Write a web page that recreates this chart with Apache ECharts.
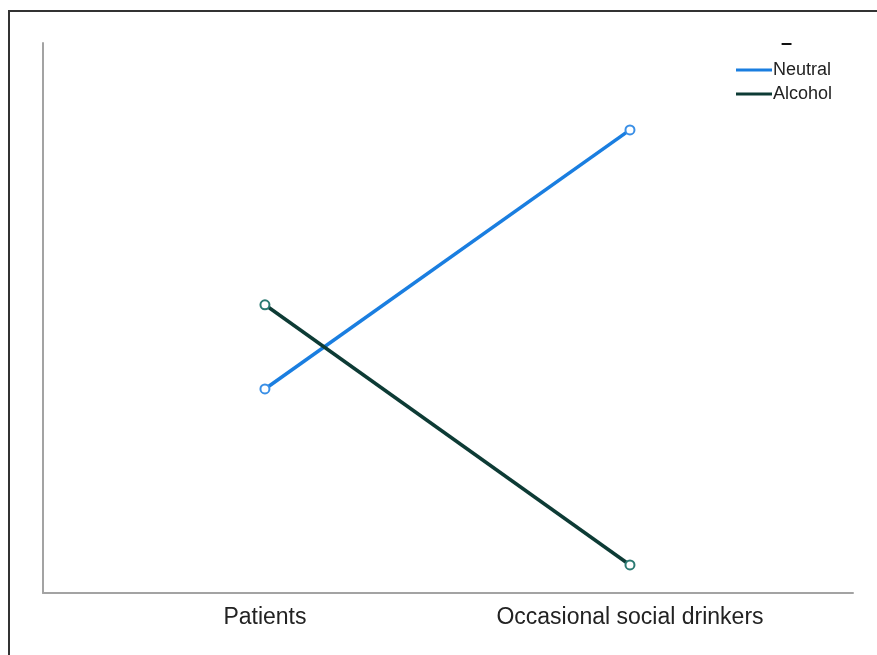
<!DOCTYPE html>
<html><head><meta charset="utf-8">
<script src="https://cdn.jsdelivr.net/npm/echarts@6/dist/echarts.min.js"></script>
<style>html,body{margin:0;padding:0;background:#fff}#c{width:877px;height:655px}</style>
</head><body><div id="c"></div>
<script>
const categories = ['Patients', 'Occasional social drinkers'];
const neutral = [37.1, 84.2];
const alcohol = [52.4, 5.1];
const seriesNames = ['Neutral', 'Alcohol'];

const chart = echarts.init(document.getElementById('c'), null, {renderer: 'canvas'});
const toPts = arr => arr.map((v, i) => [i, v]);
chart.setOption({
  animation: false,
  backgroundColor: '#fff',
  title: {text: '–', left: 776, top: 28, textStyle: {fontSize: 20, fontWeight: 'bold', color: '#111'}},
  grid: {left: 43, right: 24, top: 43, bottom: 62},
  legend: {
    left: 731, top: 56, orient: 'vertical', itemGap: 6, itemWidth: 36, itemHeight: 12,
    icon: 'path://M0,4.5 L36,4.5 L36,7.5 L0,7.5 Z',
    textStyle: {fontSize: 18, color: '#222', fontFamily: 'Liberation Sans, Arial', padding: [0,0,0,-4]},
    data: seriesNames.map((n, i) => ({name: n, itemStyle: {color: i ? '#0d3b35' : '#1a7ee0'}}))
  },
  xAxis: {
    type: 'value', min: -0.608, max: 1.611,
    splitLine: {show: false}, axisTick: {show: false},
    axisLine: {show: true, onZero: false, lineStyle: {color: '#a3a3a3', width: 2}},
    axisLabel: {
      customValues: [0, 1], margin: 13, fontSize: 23, color: '#222',
      fontFamily: 'Liberation Sans, Arial',
      formatter: v => categories[Math.round(v)] || ''
    }
  },
  yAxis: {
    type: 'value', min: 0, max: 100,
    splitLine: {show: false}, axisTick: {show: false}, axisLabel: {show: false},
    axisLine: {show: true, onZero: false, lineStyle: {color: '#a3a3a3', width: 2}}
  },
  series: [
    {name: seriesNames[0], type: 'line', data: toPts(neutral),
     lineStyle: {color: '#1a7ee0', width: 3.5}, symbol: 'emptyCircle', symbolSize: 9,
     itemStyle: {color: '#3a8fe6', borderWidth: 2}},
    {name: seriesNames[1], type: 'line', data: toPts(alcohol),
     lineStyle: {color: '#0d3b35', width: 3.5}, symbol: 'emptyCircle', symbolSize: 9,
     itemStyle: {color: '#2b7a72', borderWidth: 2}}
  ],
  graphic: [{
    type: 'polyline', silent: true,
    shape: {points: [[9, 655], [9, 11], [877, 11]]},
    style: {stroke: '#333', lineWidth: 2, fill: null}
  }]
});
</script></body></html>
